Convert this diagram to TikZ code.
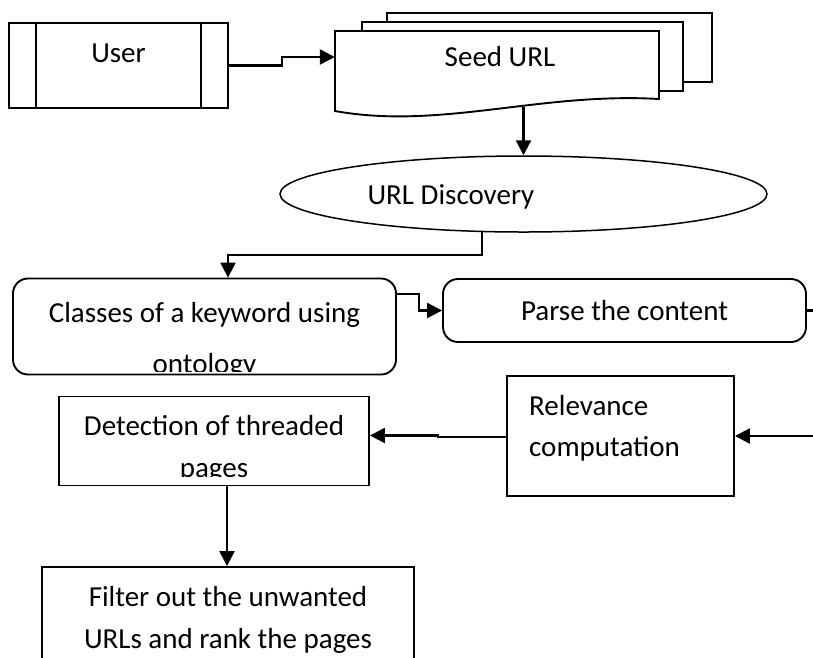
\documentclass[tikz,border=0pt]{standalone}
\usepackage{fontspec}
\setmainfont{Carlito}
\usetikzlibrary{shapes.geometric,arrows.meta}
\begin{document}
\begin{tikzpicture}[x=1pt,y=-1pt,
  box/.style={draw, line width=1.9pt, inner sep=0pt, fill=white},
  rbox/.style={box, rounded corners=15pt},
  conn/.style={line width=2.3pt, -{Triangle[length=15pt,width=15pt]}},
  lbl/.style={font=\fontsize{29}{35}\selectfont, inner sep=0pt, anchor=base},
  lblw/.style={lbl, anchor=base west},
]
\useasboundingbox (0,0) rectangle (813,657);
\clip (0,0) rectangle (813,657);

% User (predefined process)
\node[box, minimum width=219pt, minimum height=85pt] (user) at (118.5,65.5) {};
\draw[line width=1.9pt] (36,23) -- (36,108) (201,23) -- (201,108);
\node[lbl] (tuser) at (118.5,62.7) {User};

% Seed URL (multi-document)
\draw[line width=1.9pt, fill=white] (387,13) rectangle (712,82);
\draw[line width=1.9pt, fill=white] (362,22) rectangle (683,91);
\draw[line width=1.9pt, fill=white] (335,31) -- (659,31) -- (659,99)
  .. controls (540,92) and (440,130) .. (335,111) -- cycle;
\node[inner sep=0pt, minimum width=324pt, minimum height=80pt] (seed) at (497,71) {};
\node[lbl] (tseed) at (500,66.7) {Seed URL};

% URL Discovery
\node[draw, line width=1.5pt, ellipse, inner sep=0pt, minimum width=487pt, minimum height=76pt] (disc) at (523.5,194) {};
\node[lbl] (tdisc) at (451,204) {URL Discovery};

% Classes of a keyword using ontology
\node[rbox, minimum width=383pt, minimum height=96pt] (classes) at (204.5,326.5) {};
\node[lbl] (tcl1) at (204.5,322.7) {Classes of a keyword using};
\begin{scope}
  \clip (14,280) rectangle (395,371);
  \node[lbl] (tcl2) at (204.5,373.5) {ontology};
\end{scope}

% Parse the content
\node[rbox, minimum width=363pt, minimum height=63pt] (parse) at (624.5,310.5) {};
\node[lbl] (tparse) at (624.5,320) {Parse the content};

% Relevance computation
\node[box, minimum width=227pt, minimum height=120pt] (rel) at (620.5,436) {};
\node[lblw] (trel1) at (529,415) {Relevance};
\node[lblw] (trel2) at (529,456) {computation};

% Detection of threaded pages
\node[box, minimum width=310pt, minimum height=89pt] (det) at (214,441) {};
\node[lbl] (tdet1) at (214,435) {Detection of threaded};
\begin{scope}
  \clip (60,397) rectangle (368,476.5);
  \node[lbl] (tdet2) at (214,477.6) {pages};
\end{scope}

% Filter
\node[box, minimum width=372pt, minimum height=110pt] (filt) at (228,622) {};
\node[lbl] (tfil1) at (228,606.7) {Filter out the unwanted};
\node[lbl] (tfil2) at (228,648.3) {URLs and rank the pages};

% helper coordinates
\coordinate (k1) at (282,65.5);
\coordinate (k2) at (282,57);
\coordinate (k3) at (482,231);
\coordinate (k4) at (482,255);
\coordinate (k5) at (228,255);
\coordinate (k6) at (419,294);
\coordinate (k7) at (840,310.5);
\coordinate (k8) at (438,437);
\coordinate (k9) at (438,435.5);
\coordinate (k10) at (227,520);
\coordinate (k11) at (523.5,107);

% connectors
\draw[conn] (user.east) -- (k1) -- (k2) -- (k2 -| seed.west);
\draw[conn] (k11) -- (disc.north);
\draw[conn] (k3) -- (k4) -- (k5) -- (k5 |- classes.north);
\draw[conn] (k6 -| classes.east) -- (k6) |- (parse.west);
\draw[conn] (parse.east) -- (k7) |- (rel.east);
\draw[conn] (k8 -| rel.west) -- (k8) -- (k9) -- (k9 -| det.east);
\draw[conn] (k10 |- det.south) -- (k10 |- filt.north);
\end{tikzpicture}
\end{document}
